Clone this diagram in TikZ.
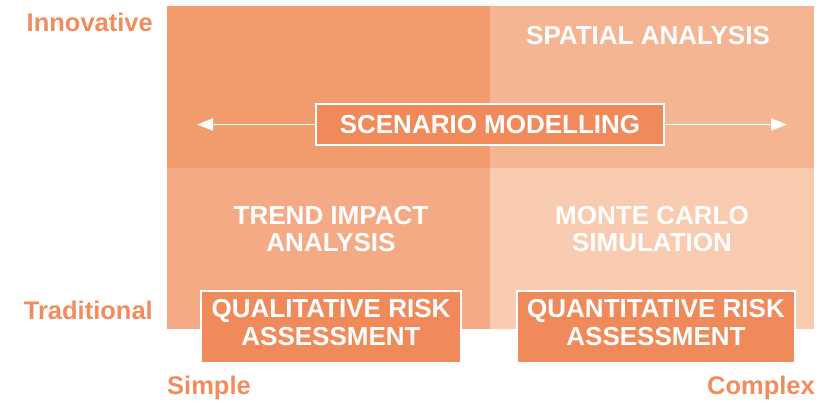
\documentclass[tikz,border=0pt]{standalone}
\usepackage{fontspec}
\setmainfont{Liberation Sans}
\usetikzlibrary{arrows.meta}

\definecolor{topleft}{HTML}{F29B6D}
\definecolor{topright}{HTML}{F6B592}
\definecolor{bottomleft}{HTML}{F4AA84}
\definecolor{bottomright}{HTML}{F9CBB0}
\definecolor{boxorange}{HTML}{F08A5A}
\definecolor{axisorange}{HTML}{F28C5C}

\begin{document}
\begin{tikzpicture}[x=1pt, y=-1pt,
    quadtext/.style={font=\fontsize{26}{27.5}\selectfont\bfseries, text=white, align=center},
    methodbox/.style={quadtext, draw=white, line width=1.6pt, fill=boxorange, inner sep=0pt},
    axistext/.style={font=\fontsize{25.5}{28}\selectfont\bfseries, text=axisorange, inner sep=0pt},
    whitearrow/.style={draw=white, line width=1.5pt, -{Triangle[length=16pt, width=12pt]}}]
    \useasboundingbox (0,0) rectangle (828,403);

    % quadrants
    \fill[topleft] (167,6) rectangle (490,168);
    \fill[topright] (490,6) rectangle (814,168);
    \fill[bottomleft] (167,168) rectangle (490,329);
    \fill[bottomright] (490,168) rectangle (814,329);

    % axis labels
    \node[axistext, anchor=east] (innovative) at (153,22) {Innovative};
    \node[axistext, anchor=east] (traditional) at (153,310) {Traditional};
    \node[axistext, anchor=west] (simple) at (167,388) {Simple};
    \node[axistext, anchor=east] (complex) at (815,388) {Complex};

    % methods
    \node[quadtext] (spatial) at (648,36) {SPATIAL ANALYSIS};
    \node[quadtext] (trend) at (331,229) {TREND IMPACT\\ANALYSIS};
    \node[quadtext] (montecarlo) at (652,229) {MONTE CARLO\\SIMULATION};

    \node[methodbox, minimum width=348pt, minimum height=41pt] (scenario) at (490,124.5) {SCENARIO MODELLING};
    \node[methodbox, text depth=9pt, minimum width=260pt, minimum height=72pt] (qualitative) at (331,327) {QUALITATIVE RISK\\ASSESSMENT};
    \node[methodbox, text depth=9pt, minimum width=278pt, minimum height=72pt] (quantitative) at (656,327) {QUANTITATIVE RISK\\ASSESSMENT};

    % scenario range
    \coordinate (simpleend) at (197,124.5);
    \coordinate (complexend) at (787,124.5);
    \draw[whitearrow] (scenario.west) -- (simpleend);
    \draw[whitearrow] (scenario.east) -- (complexend);
\end{tikzpicture}
\end{document}
